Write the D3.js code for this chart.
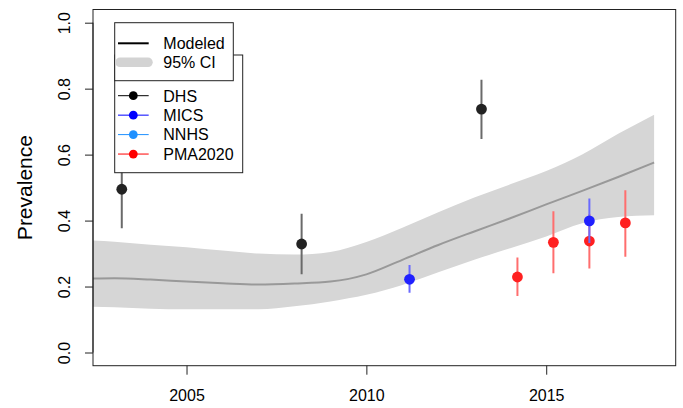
<!DOCTYPE html>
<html>
<head>
<meta charset="utf-8">
<script src="https://cdn.jsdelivr.net/npm/d3@7"></script>
<style>
  html, body { margin: 0; padding: 0; background: #fff; }
  svg { display: block; font-family: "Liberation Sans", Arial, sans-serif; }
</style>
</head>
<body>
<svg id="chart" width="683" height="408"></svg>
<script>
// Modeled trend and 95% CI
const modelYears = [2002, 2003, 2004, 2005, 2006, 2007, 2008, 2009, 2010, 2011, 2012, 2013, 2014, 2015, 2016, 2017, 2018];
const modelMid   = [0.223, 0.225, 0.221, 0.215, 0.210, 0.206, 0.209, 0.215, 0.237, 0.281, 0.326, 0.367, 0.407, 0.449, 0.490, 0.532, 0.576];
const modelLow   = [0.140, 0.137, 0.133, 0.131, 0.131, 0.131, 0.140, 0.155, 0.175, 0.205, 0.243, 0.281, 0.316, 0.352, 0.392, 0.411, 0.416];
const modelHigh  = [0.341, 0.336, 0.327, 0.319, 0.309, 0.300, 0.297, 0.305, 0.335, 0.378, 0.425, 0.470, 0.510, 0.550, 0.600, 0.663, 0.721];

// Survey observations
const obsSource = ["PMA2020", "PMA2020", "PMA2020", "PMA2020", "MICS", "MICS", "DHS", "DHS", "DHS"];
const obsYear   = [2014.2, 2015.2, 2016.2, 2017.2, 2011.2, 2016.2, 2003.2, 2008.2, 2013.2];
const obsValue  = [0.229, 0.334, 0.338, 0.393, 0.222, 0.399, 0.495, 0.329, 0.738];
const obsLow    = [0.171, 0.240, 0.255, 0.290, 0.181, 0.332, 0.377, 0.237, 0.647];
const obsHigh   = [0.288, 0.428, 0.420, 0.492, 0.265, 0.467, 0.610, 0.421, 0.827];

// Legend
const legendModel = ["Modeled", "95% CI"];
const legendSources = ["DHS", "MICS", "NNHS", "PMA2020"];

// Axes
const xTicks = [2005, 2010, 2015];
const yTicks = [0.0, 0.2, 0.4, 0.6, 0.8, 1.0];
const yLabel = "Prevalence";

const pointColor = { DHS: "#222222", MICS: "#2020ff", NNHS: "#3a9bff", PMA2020: "#ff2020" };
const ciColor    = { DHS: "#6a6a6a", MICS: "#6a6aff", NNHS: "#7fbfff", PMA2020: "#ff6e6e" };
const legColor   = { DHS: "#000000", MICS: "#0000ff", NNHS: "#1e90ff", PMA2020: "#ff0000" };

const svg = d3.select("#chart");
const L = 93, R = 675.7, T = 9.5, B = 365.7;

const x = d3.scaleLinear().domain([2002.4, 2018.6]).range([L, R]);
const y = d3.scaleLinear().domain([-0.04, 1.04]).range([B, T]);

svg.append("defs").append("clipPath").attr("id", "clip")
  .append("rect").attr("x", L).attr("y", T).attr("width", R - L).attr("height", B - T);

const plot = svg.append("g").attr("clip-path", "url(#clip)");

const model = modelYears.map((yr, i) => ({ yr, mid: modelMid[i], lo: modelLow[i], hi: modelHigh[i] }));
const curve = d3.curveMonotoneX;

plot.append("path")
  .datum(model)
  .attr("fill", "#d6d6d6")
  .attr("d", d3.area().curve(curve).x(d => x(d.yr)).y0(d => y(d.lo)).y1(d => y(d.hi)));

plot.append("path")
  .datum(model)
  .attr("fill", "none")
  .attr("stroke", "#999999")
  .attr("stroke-width", 2)
  .attr("d", d3.line().curve(curve).x(d => x(d.yr)).y(d => y(d.mid)));

const obs = obsYear.map((yr, i) => ({ src: obsSource[i], yr, v: obsValue[i], lo: obsLow[i], hi: obsHigh[i] }));

const og = plot.selectAll("g.obs").data(obs).join("g").attr("class", "obs");
og.append("line")
  .attr("x1", d => x(d.yr)).attr("x2", d => x(d.yr))
  .attr("y1", d => y(d.lo)).attr("y2", d => y(d.hi))
  .attr("stroke", d => ciColor[d.src]).attr("stroke-width", 2);
og.append("circle")
  .attr("cx", d => x(d.yr)).attr("cy", d => y(d.v)).attr("r", 5.4)
  .attr("fill", d => pointColor[d.src]);

// Frame
svg.append("rect")
  .attr("x", L).attr("y", T).attr("width", R - L).attr("height", B - T)
  .attr("fill", "none").attr("stroke", "#222").attr("stroke-width", 1);

// Y axis
const yAxis = d3.axisLeft(y).tickValues(yTicks).tickSize(8).tickPadding(6).tickFormat(d3.format(".1f"));
const ya = svg.append("g").attr("transform", `translate(${L},0)`).call(yAxis);
ya.select(".domain").remove();
ya.selectAll(".tick line").attr("stroke", "#222");
ya.append("line").attr("x1", 0).attr("x2", 0)
  .attr("y1", y(yTicks[0])).attr("y2", y(yTicks[yTicks.length - 1])).attr("stroke", "#222");
ya.selectAll(".tick text")
  .attr("x", 0).attr("dy", null).attr("dx", null)
  .attr("transform", "translate(-23,0) rotate(-90)")
  .attr("text-anchor", "middle")
  .attr("font-size", 16).attr("font-family", "Liberation Sans, Arial, sans-serif").attr("fill", "#000");

// X axis
const xAxis = d3.axisBottom(x).tickValues(xTicks).tickSize(9).tickFormat(d3.format("d"));
const xa = svg.append("g").attr("transform", `translate(0,${B})`).call(xAxis);
xa.select(".domain").remove();
xa.selectAll(".tick line").attr("stroke", "#222");
xa.selectAll(".tick text")
  .attr("y", 35).attr("dy", null)
  .attr("font-size", 16).attr("font-family", "Liberation Sans, Arial, sans-serif").attr("fill", "#000");

// Y label
svg.append("text")
  .attr("transform", `translate(32,${(T + B) / 2}) rotate(-90)`)
  .attr("text-anchor", "middle")
  .attr("font-size", 21)
  .text(yLabel);

// Legend 2 (sources) drawn first, under legend 1
const lg2 = svg.append("g");
lg2.append("rect").attr("x", 114.7).attr("y", 55).attr("width", 128).attr("height", 117.7)
  .attr("fill", "#fff").attr("stroke", "#222").attr("stroke-width", 1);
legendSources.forEach((s, i) => {
  const cy = 95.7 + i * 19.45;
  lg2.append("line").attr("x1", 118).attr("x2", 148.7).attr("y1", cy).attr("y2", cy)
    .attr("stroke", legColor[s]).attr("stroke-width", 1);
  lg2.append("circle").attr("cx", 133.3).attr("cy", cy).attr("r", 4.4).attr("fill", legColor[s]);
  lg2.append("text").attr("x", 163.3).attr("y", cy + 5.8).attr("font-size", 16).text(s);
});

// Legend 1 (model)
const lg1 = svg.append("g");
lg1.append("rect").attr("x", 114.7).attr("y", 22.7).attr("width", 118.6).attr("height", 58)
  .attr("fill", "#fff").attr("stroke", "#222").attr("stroke-width", 1);
lg1.append("line").attr("x1", 118).attr("x2", 148.7).attr("y1", 43.3).attr("y2", 43.3)
  .attr("stroke", "#000").attr("stroke-width", 2);
lg1.append("line").attr("x1", 120).attr("x2", 148).attr("y1", 62.3).attr("y2", 62.3)
  .attr("stroke", "#d3d3d3").attr("stroke-width", 9.5).attr("stroke-linecap", "round");
legendModel.forEach((t, i) => {
  lg1.append("text").attr("x", 163.3).attr("y", 49.2 + i * 19).attr("font-size", 16).text(t);
});
</script>
</body>
</html>
